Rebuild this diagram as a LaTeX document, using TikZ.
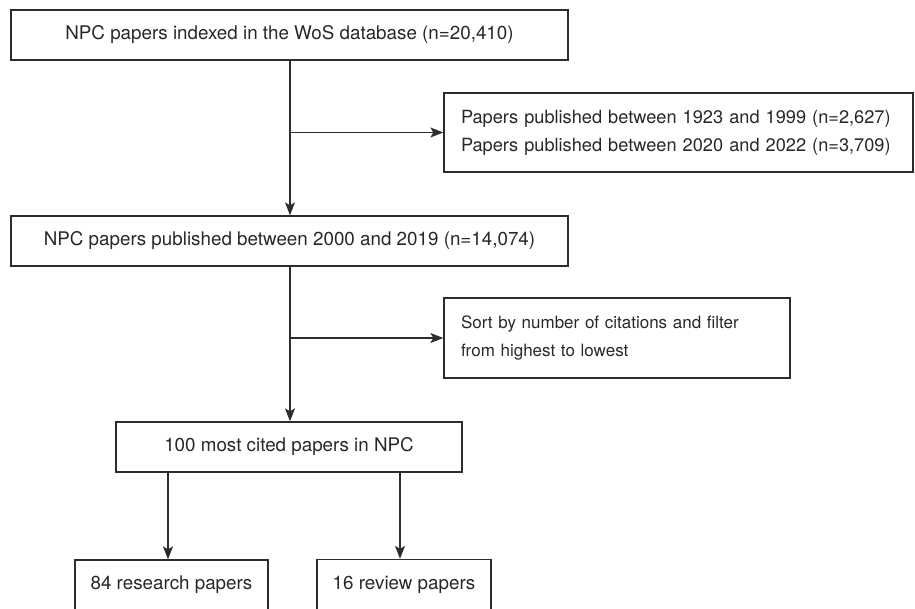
\documentclass[tikz,border=0pt]{standalone}
\usepackage{fontspec}
\setmainfont{TeX Gyre Heros}
\definecolor{inkgray}{RGB}{45, 45, 45}
\definecolor{textgray}{RGB}{40, 40, 40}
\usetikzlibrary{arrows.meta, positioning, calc}
\tikzset{
	stage/.style={rectangle, draw=inkgray, line width=1.3pt, align=center, minimum height=50pt, inner sep=0pt, text=textgray, font=\fontsize{18.8}{28.5}\selectfont},
	note/.style={rectangle, draw=inkgray, line width=1.3pt, align=left, inner xsep=17pt, inner ysep=0pt, text=textgray, font=\fontsize{17}{28.5}\selectfont},
	arrow/.style={-{Stealth[length=13pt, width=10pt, inset=3pt]}, line width=1.3pt, draw=inkgray},
}
\begin{document}
\begin{tikzpicture}[x=1pt, y=-1pt]
		\useasboundingbox (0,0) rectangle (915,608);
		\node[stage, minimum width=557pt] (wos) at (289.5,35) {NPC papers indexed in the WoS database (n=20,410)};
		\node[note, text width=435pt, minimum height=79pt, font=\fontsize{18.2}{28}\selectfont] (excluded) at (678.5,132.5) {Papers published between 1923 and 1999 (n=2,627)\\Papers published between 2020 and 2022 (n=3,709)};
		\node[stage, minimum width=557pt] (period) at (289.5,241) {NPC papers published between 2000 and 2019 (n=14,074)};
		\node[note, text width=312pt, minimum height=80pt] (sorting) at (617,338) {Sort by number of citations and filter\\from highest to lowest};
		\node[stage, minimum width=346pt] (top) at (289,447) {100 most cited papers in NPC};
		\node[stage, minimum width=193pt] (research) at (171.5,585) {84 research papers};
		\node[stage, minimum width=174pt] (review) at (404,584.5) {16 review papers};
		\draw[arrow] (wos.south -| 290,0) -- (period.north -| 290,0);
		\draw[arrow] (excluded.west -| 290,0) -- (excluded.west);
		\draw[arrow] (period.south -| 290,0) -- (top.north -| 290,0);
		\draw[arrow] (sorting.west -| 290,0) -- (sorting.west);
		\draw[arrow] (top.south -| 168,0) -- (research.north -| 168,0);
		\draw[arrow] (top.south -| 400,0) -- (review.north -| 400,0);
	\end{tikzpicture}
\end{document}
